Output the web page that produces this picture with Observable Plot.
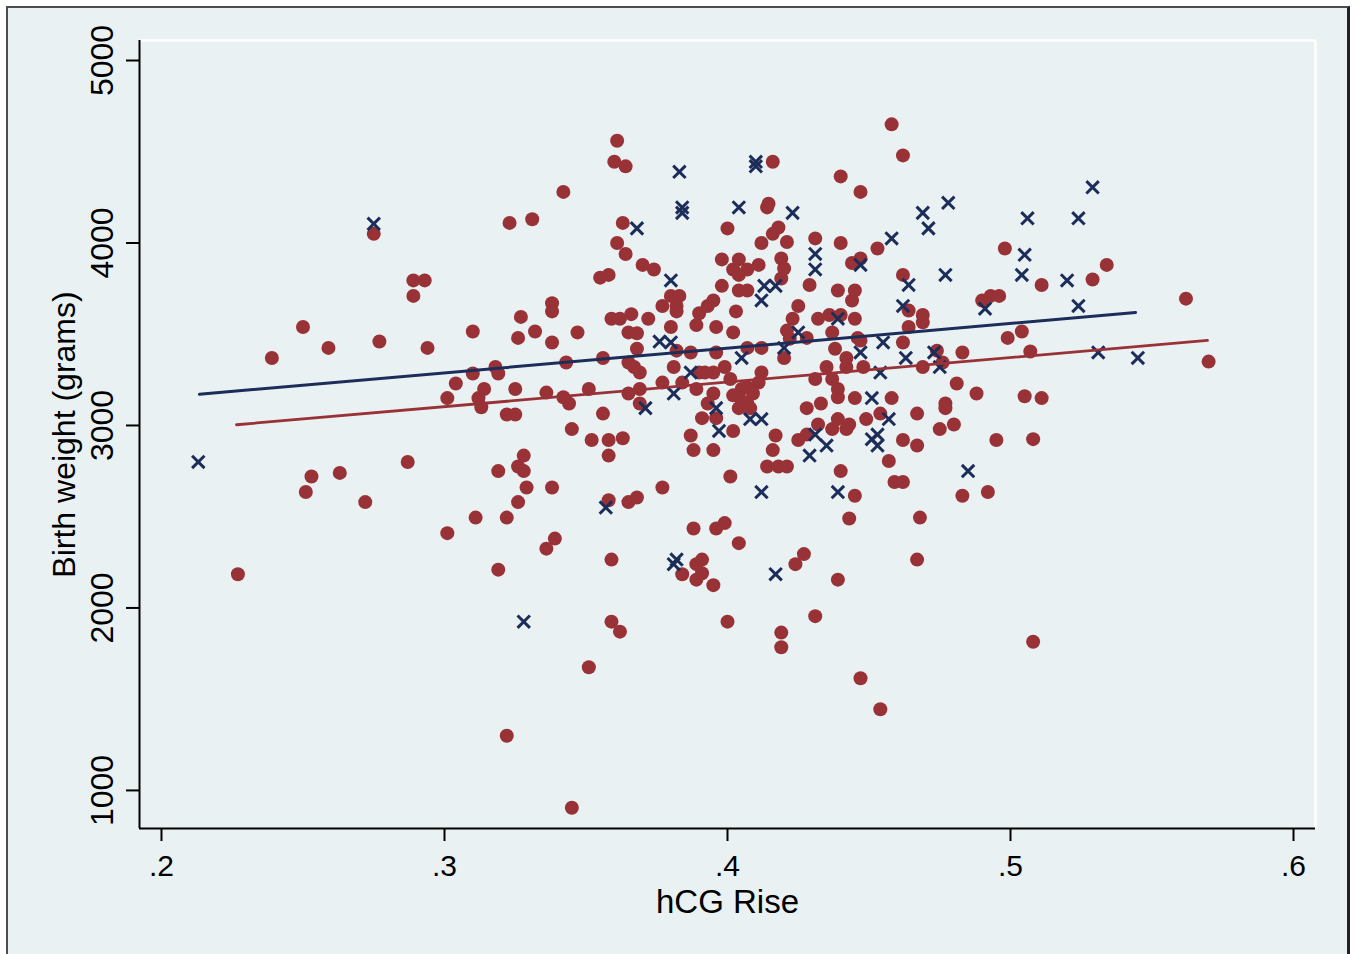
<!DOCTYPE html>
<html><head><meta charset="utf-8">
<script src="https://cdn.jsdelivr.net/npm/d3@7"></script>
<script src="https://cdn.jsdelivr.net/npm/@observablehq/plot@0.6"></script>
<style>
html,body{margin:0;padding:0;background:#fff;width:1355px;height:954px;overflow:hidden;}
#frame{position:absolute;left:6px;top:6px;width:1344px;height:1000px;box-sizing:border-box;border:2px solid #4d4d4d;border-right:3px solid #222;background:#e9f1f3;}
#chart{position:absolute;left:0;top:0;}
</style></head><body>
<div id="frame"></div>
<div id="chart"></div>
<script>
// tick values and labels
const xTicks = [0.2, 0.3, 0.4, 0.5, 0.6];
const xTickLabels = [".2", ".3", ".4", ".5", ".6"];
const yTicks = [1000, 2000, 3000, 4000, 5000];
const xTitle = "hCG Rise";
const yTitle = "Birth weight (grams)";

// series 1: filled circles [hCG rise, birth weight]
const circlePoints = [
[0.227,2185],[0.239,3370],[0.250,3540],[0.251,2635],[0.253,2720],[0.259,3425],[0.263,2740],[0.272,2580],[0.275,4050],[0.277,3460],
[0.287,2800],[0.289,3795],[0.293,3795],[0.289,3710],[0.294,3425],[0.301,2410],[0.301,3150],[0.304,3230],[0.310,3515],[0.310,3285],
[0.311,2495],[0.312,3150],[0.313,3100],[0.314,3200],[0.318,3320],[0.319,3285],[0.319,2210],[0.319,2750],[0.322,2495],[0.322,3060],
[0.322,1300],[0.323,4110],[0.325,3200],[0.325,3060],[0.326,3480],[0.326,2775],[0.326,2580],[0.327,3595],[0.328,2750],[0.328,2835],
[0.329,2660],[0.331,4130],[0.332,3515],
[0.361,4560],[0.360,4445],[0.364,4420],[0.342,4280],[0.416,4445],[0.4145,4215],[0.414,4195],[0.400,4080],[0.363,4110],[0.361,4000],
[0.364,3940],[0.370,3880],[0.374,3855],[0.355,3810],[0.358,3825],[0.338,3670],[0.338,3625],[0.398,3910],[0.404,3910],[0.402,3855],
[0.407,3855],[0.404,3825],[0.412,4000],[0.411,3880],[0.416,4050],[0.418,4085],[0.398,3765],[0.404,3740],[0.407,3740],[0.403,3625],
[0.380,3710],[0.383,3710],[0.377,3655],[0.382,3655],[0.382,3625],[0.390,3615],[0.393,3655],[0.395,3685],[0.359,3585],[0.362,3585],
[0.366,3610],[0.372,3585],[0.380,3540],[0.389,3550],[0.396,3540],[0.402,3510],[0.347,3510],[0.338,3455],[0.365,3510],[0.368,3505],
[0.368,3420],[0.382,3410],[0.387,3400],[0.396,3400],[0.407,3425],[0.412,3425],[0.343,3345],[0.356,3370],[0.365,3345],[0.367,3320],
[0.369,3290],[0.381,3320],[0.390,3290],[0.392,3290],[0.395,3290],[0.399,3320],[0.412,3290],[0.401,3255],[0.336,3180],[0.351,3200],
[0.342,3155],[0.344,3120],[0.365,3175],[0.369,3200],[0.377,3235],[0.384,3235],[0.389,3200],[0.395,3175],[0.402,3165],[0.405,3200],
[0.407,3210],[0.411,3235],[0.405,3135],[0.407,3120],[0.409,3175],[0.393,3120],[0.369,3120],[0.404,3095],[0.408,3095],[0.356,3065],
[0.345,2980],[0.352,2920],[0.358,2920],[0.363,2930],[0.358,2835],[0.391,3040],[0.396,3040],[0.402,2970],[0.387,2945],[0.417,2945],
[0.388,2865],[0.395,2865],[0.416,2865],[0.414,2775],[0.418,2775],[0.421,2775],[0.401,2720],[0.338,2660],[0.377,2660],[0.358,2590],
[0.365,2580],[0.368,2605],[0.339,2380],[0.336,2325],[0.359,2265],[0.388,2435],[0.396,2435],[0.399,2465],[0.404,2355],[0.391,2265],
[0.389,2240],[0.391,2190],[0.384,2185],[0.389,2155],[0.395,2125],[0.400,1925],[0.359,1925],[0.362,1870],[0.351,1675],[0.345,905],
[0.419,1865],[0.419,1785],
[0.458,4650],[0.462,4480],[0.440,4365],[0.447,4280],[0.453,3970],[0.498,3970],[0.431,4025],[0.440,4000],[0.421,4005],[0.419,3915],
[0.420,3860],[0.419,3805],[0.444,3890],[0.447,3915],[0.429,3770],[0.439,3740],[0.445,3740],[0.444,3685],[0.425,3655],[0.462,3825],
[0.464,3630],[0.469,3605],[0.469,3565],[0.490,3685],[0.493,3710],[0.496,3710],[0.423,3585],[0.432,3585],[0.436,3605],[0.440,3605],
[0.445,3585],[0.421,3520],[0.422,3475],[0.428,3480],[0.437,3510],[0.464,3540],[0.446,3480],[0.447,3465],[0.462,3455],[0.499,3480],
[0.420,3370],[0.438,3420],[0.442,3370],[0.474,3410],[0.483,3400],[0.476,3345],[0.469,3320],[0.435,3320],[0.442,3320],[0.448,3320],
[0.431,3255],[0.437,3255],[0.481,3230],[0.439,3200],[0.439,3155],[0.445,3150],[0.458,3150],[0.488,3175],[0.477,3120],[0.477,3095],
[0.428,3095],[0.433,3120],[0.467,3065],[0.449,3035],[0.454,3065],[0.439,3035],[0.432,3005],[0.437,2980],[0.443,3005],[0.442,2980],
[0.475,2980],[0.480,3005],[0.425,2920],[0.428,2950],[0.462,2920],[0.467,2890],[0.495,2920],[0.457,2805],[0.440,2750],[0.459,2690],
[0.462,2690],[0.445,2615],[0.483,2615],[0.492,2635],[0.443,2490],[0.468,2495],[0.427,2295],[0.424,2240],[0.467,2265],[0.439,2155],
[0.431,1955],[0.447,1615],[0.454,1445],
[0.511,3770],[0.529,3800],[0.534,3880],[0.562,3695],[0.504,3515],[0.507,3405],[0.505,3160],[0.511,3150],[0.508,2925],[0.508,1815],[0.570,3350]
];

// series 2: x markers [hCG rise, birth weight]
const crossPoints = [
[0.213,2800],[0.275,4105],[0.328,1925],[0.383,4390],[0.384,4195],[0.384,4165],[0.410,4445],[0.410,4420],[0.404,4195],[0.368,4080],
[0.380,3795],[0.413,3765],[0.417,3765],[0.412,3685],[0.376,3460],[0.380,3455],[0.405,3370],[0.387,3290],[0.381,3175],[0.371,3095],
[0.396,3095],[0.397,2970],[0.408,3035],[0.412,3035],[0.412,2635],[0.357,2550],[0.382,2265],[0.381,2240],[0.417,2185],[0.423,4165],
[0.469,4165],[0.478,4220],[0.471,4080],[0.458,4025],[0.431,3940],[0.431,3855],[0.447,3880],[0.464,3770],[0.477,3825],[0.462,3655],
[0.491,3640],[0.439,3585],[0.425,3510],[0.455,3455],[0.420,3425],[0.447,3400],[0.463,3370],[0.473,3400],[0.475,3320],[0.454,3290],
[0.451,3150],[0.457,3035],[0.431,2950],[0.451,2925],[0.453,2950],[0.453,2890],[0.435,2890],[0.429,2835],[0.485,2750],[0.439,2635],
[0.529,4305],[0.506,4135],[0.524,4135],[0.505,3935],[0.504,3825],[0.520,3795],[0.524,3655],[0.531,3400],[0.545,3370]
];

// fitted lines (end points)
const circleFit = [[0.2265,3004],[0.5696,3466]];
const crossFit = [[0.2134,3171],[0.5442,3619]];

const RED = "#993237";
const NAVY = "#1d2d5a";
const X0 = 0.19223, X1 = 0.60777, Y0 = 791.4, Y1 = 5109.6;

const chart = Plot.plot({
  width: 1355, height: 954,
  marginLeft: 139, marginRight: 40, marginTop: 40, marginBottom: 126,
  x: {domain: [X0, X1]},
  y: {domain: [Y0, Y1]},
  style: {background: "transparent", color: "black", fontFamily: "'Liberation Sans', Arial, Helvetica, sans-serif", overflow: "visible"},
  marks: [
    Plot.ruleY([Y1], {stroke: "white", strokeWidth: 2.5}),
    Plot.ruleX([X1], {stroke: "white", strokeWidth: 2.5}),
    Plot.dot(circlePoints, {x: d => d[0], y: d => d[1], r: 7, fill: RED, stroke: "none"}),
    Plot.dot(crossPoints, {x: d => d[0], y: d => d[1], symbol: "times", r: 5.7, stroke: NAVY, strokeWidth: 3}),
    Plot.line(circleFit, {x: d => d[0], y: d => d[1], stroke: RED, strokeWidth: 2.8}),
    Plot.line(crossFit, {x: d => d[0], y: d => d[1], stroke: NAVY, strokeWidth: 3}),
    Plot.ruleX([X0], {stroke: "black", strokeWidth: 2}),
    Plot.ruleY([Y0], {stroke: "black", strokeWidth: 2}),
    Plot.axisX({ticks: xTicks, tickSize: 13, tickPadding: 13, strokeWidth: 2, fontSize: 30, label: null,
      tickFormat: d => xTickLabels[xTicks.indexOf(d)]}),
    Plot.axisY({ticks: yTicks, tickSize: 13, tickPadding: 14, tickRotate: -90, strokeWidth: 2, fontSize: 32, label: null,
      tickFormat: d => String(d)}),
    Plot.text([xTitle], {text: d => d, frameAnchor: "bottom", dy: 84, lineAnchor: "bottom", fontSize: 33}),
    Plot.text([yTitle], {text: d => d, frameAnchor: "left", dx: -65, rotate: -90, textAnchor: "middle", lineAnchor: "bottom", fontSize: 32})
  ]
});
document.getElementById("chart").append(chart);
</script></body></html>
